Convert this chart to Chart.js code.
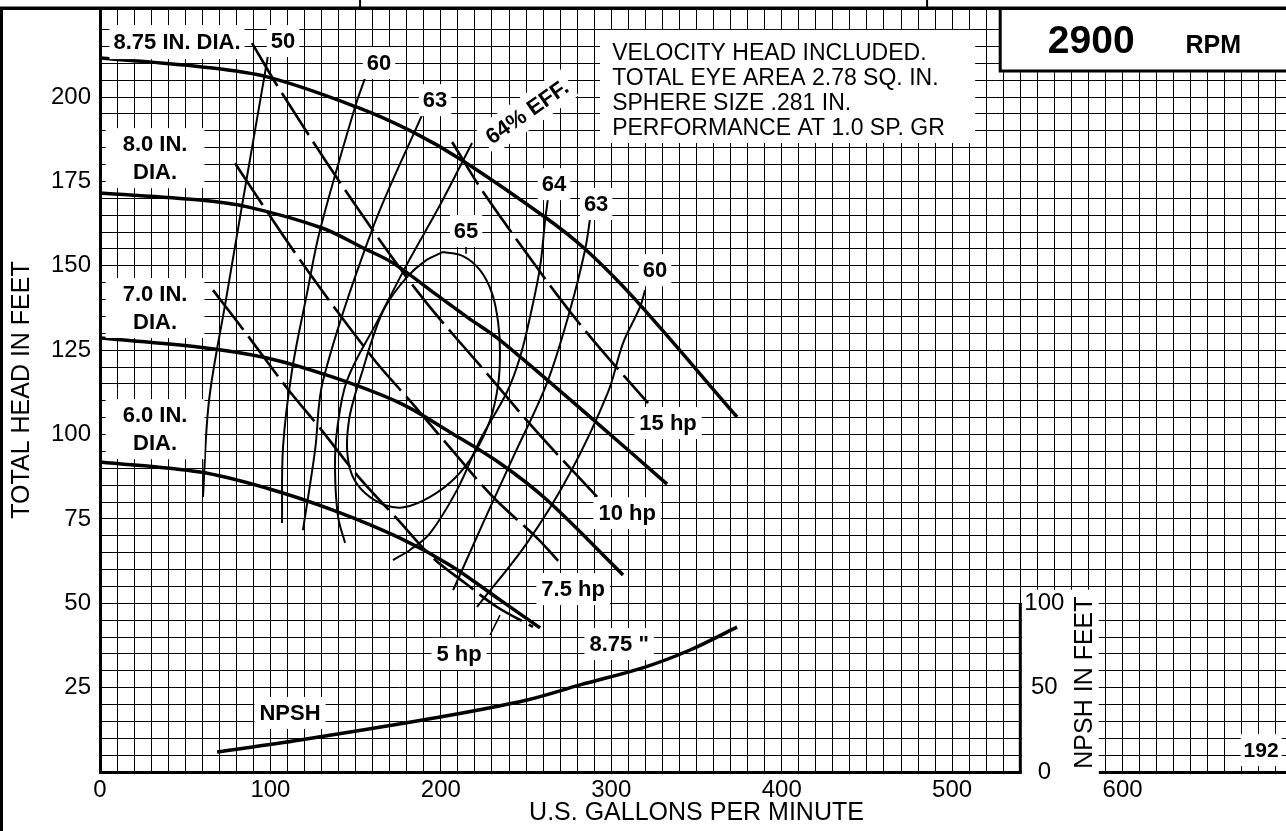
<!DOCTYPE html>
<html><head><meta charset="utf-8">
<script src="https://cdn.jsdelivr.net/npm/chart.js@4.4.1/dist/chart.umd.min.js"></script>
<style>
html,body{margin:0;padding:0;background:#fff;overflow:hidden;width:1286px;height:831px;}
#wrap{position:absolute;left:0;top:0;width:1300px;height:831px;}
</style></head><body>
<div id="wrap"><canvas id="c" width="1300" height="831"></canvas></div>
<script>
// ---------- tick labels ----------
const gpmTickLabels = [0, 100, 200, 300, 400, 500, 600];
const headTickLabels = [25, 50, 75, 100, 125, 150, 175, 200];
const npshTickLabels = [0, 50, 100];

// ---------- head-capacity curves (GPM, ft) ----------
const dia875 = [[0,211.6],[58.7,209],[98.6,205.9],[150.8,197],[183.7,189.6],[212.4,181.3],[261.2,164.4],[284.6,155],[312.8,140.7],[373.8,105.2]];
const dia80  = [[0,171.6],[58.7,169.5],[87.2,167.4],[130.3,161.2],[154.3,155.3],[172,150.8],[197.8,141.3],[215.4,134.8],[234.7,128],[291.7,103.4],[332.7,85.3]];
const dia70  = [[0,128.6],[58.7,125.9],[98,122.7],[136.7,117],[176.1,109.3],[205.4,100.7],[234.7,91.5],[262.3,80.6],[306.9,58.4]];
const dia60  = [[0,91.9],[58.7,88.9],[98,84.1],[136.7,77.6],[176.1,69.3],[205.4,61.3],[234.7,51],[258.2,42.7]];

// ---------- efficiency curves ----------
const eff50  = [[98.6,212.4],[83.9,169.5],[73.9,139.9],[64,110.2],[60.4,81.5]];
const eff60a = [[155.5,205.6],[149.6,197],[129.1,160.6],[121.5,141.9],[112.7,119.1],[107.4,96.3],[106.8,73.8]];
const eff63a = [[189,194.7],[159.6,160.6],[130.9,116.1],[126.2,95.4],[119.1,71.7]];
const eff64a = [[218.3,186.4],[199.5,168],[180.8,151.1],[163.1,133.9],[145,116.1],[139.1,101.3],[137.9,89.5],[139.7,75.6],[143.8,67.9]];
const eff65  = [[201.3,154.1],[213,152.9],[223,148.7],[230,141.9],[233.6,133.3],[234.7,124.4],[233.6,114.7],[228.9,104.3],[220.1,94.8],[208.3,87.1],[193.7,81.5],[179,78.5],[167.3,79.1],[155.5,82.7],[147.9,88],[145,95.4],[146.1,104.3],[149.6,111.7],[153.8,118.5],[159.6,128],[167.3,137.8],[180.2,146.7],[190.7,151.4],[201.3,154.1]];
const eff64b = [[262.9,170.1],[261.2,163.6],[258.2,149.6],[252.3,134.8],[246.5,123],[238.8,112.6],[223,98.4],[209.5,83.6],[193.7,70.8],[181.9,65.8],[171.9,62.8]];
const eff63b = [[287.6,164.1],[284.6,154.7],[275.8,136.9],[262.3,115.3],[242.4,93.3],[224.8,73.8],[207.2,53.9]];
const eff60b = [[319.8,142.8],[316.9,137.8],[306.9,127.1],[298.1,112.6],[275.8,88.6],[250.6,67.9],[221.2,48.9]];

// ---------- horsepower lines ----------
const hp15 = [[206.6,186.7],[224.8,171.9],[267,142.2],[289.3,128],[321.6,109.3]];
const hp10 = [[89.2,216],[105.6,202.1],[145,171.6],[186.6,142.2],[228.9,117],[256.5,100.7],[291.7,81.5]];
const hp75 = [[79.2,180.4],[117.4,151.7],[159.6,123],[183.1,109.3],[206.6,95.4],[230.6,81.5],[256.5,69.3],[270,61.9]];
const hp5  = [[66.3,142.8],[85.1,130.4],[109.7,113.8],[129.1,101.9],[150.8,88],[174.9,74.7],[194.8,63.7],[214.2,56],[233,48.9],[254.1,43]];

// ---------- NPSH (GPM, NPSH ft) ----------
const npsh = [[68.7,11.9],[117.4,19],[199.5,32.6],[250.6,42.7],[281.7,51.6],[319.8,62.2],[346.2,72.3],[373.8,85.9]];

// ---------- annotation text ----------
const noteLines = ['VELOCITY HEAD INCLUDED.','TOTAL EYE AREA 2.78 SQ. IN.','SPHERE SIZE .281 IN.','PERFORMANCE AT 1.0 SP. GR'];

const FAM = '"Liberation Sans", Arial, Helvetica, sans-serif';
const HEAD_MAX = 226.4;

const labels = [
  {t:['8.75 IN. DIA.'], x:45.2, y:216.3, px:4, py:3},
  {t:['8.0 IN.','DIA.'], x:32.3, y:181.9, px:17, py:2},
  {t:['7.0 IN.','DIA.'], x:32.3, y:137.5, px:17, py:2},
  {t:['6.0 IN.','DIA.'], x:32.3, y:101.6, px:17, py:2},
  {t:['50'], x:107.4, y:216.6},
  {t:['60'], x:163.7, y:210.1},
  {t:['63'], x:196.6, y:199.1},
  {t:['64% EFF.'], x:250.6, y:195.6, rot:-35},
  {t:['65'], x:214.8, y:160.3},
  {t:['64'], x:266.4, y:174.2},
  {t:['63'], x:291.1, y:168.3},
  {t:['60'], x:325.7, y:148.7},
  {t:['15 hp'], x:333.3, y:103.4, px:5},
  {t:['10 hp'], x:309.3, y:76.7, px:5},
  {t:['7.5 hp'], x:277.6, y:54.2, px:5},
  {t:['5 hp'], x:210.7, y:35, px:5},
  {t:['8.75 "'], x:304.6, y:37.9, px:5},
  {t:['NPSH'], x:111.5, y:17.5, px:5},
  {t:['192'], x:681.3, y:6.5, px:3, font:'bold 21px '+FAM}
];
const leaders = [[214.8,156.9,214.8,153.6],[228.9,40.6,234.7,46.5]];

function line(ds, w, dash){
  return {data: ds, showLine:true, borderColor:'#000', borderWidth:w, borderDash: dash||[], pointRadius:0, tension:0.35, fill:false};
}

const annot = {
  id:'annot',
  beforeDatasetsDraw(chart){
    const {ctx, scales:{x,y,y2}} = chart;
    ctx.save();
    const ax = x.getPixelForValue(540);
    ctx.fillStyle = '#fff';
    ctx.fillRect(ax+1.5, y2.getPixelForValue(108), 77, y.bottom - y2.getPixelForValue(108) + 5);
    ctx.restore();
  },
  afterDatasetsDraw(chart){
    const {ctx, scales:{x,y,y2}, chartArea:ca} = chart;
    ctx.save();
    ctx.strokeStyle='#000'; ctx.lineWidth=1.6;
    leaders.forEach(s=>{ctx.beginPath();ctx.moveTo(x.getPixelForValue(s[0]),y.getPixelForValue(s[1]));ctx.lineTo(x.getPixelForValue(s[2]),y.getPixelForValue(s[3]));ctx.stroke();});
    labels.forEach(L=>{
      ctx.font = L.font || ('bold 22px '+FAM);
      const lh = 28;
      const w = Math.max(...L.t.map(s=>ctx.measureText(s).width));
      const padX = L.px ?? 4, padY = L.py ?? 2;
      const h = L.t.length*lh;
      ctx.save();
      ctx.translate(x.getPixelForValue(L.x), y.getPixelForValue(L.y));
      if (L.rot) ctx.rotate(L.rot*Math.PI/180);
      ctx.fillStyle='#fff';
      ctx.fillRect(-w/2-padX, -h/2-padY, w+2*padX, h+2*padY);
      ctx.fillStyle='#000'; ctx.textAlign='center'; ctx.textBaseline='middle';
      L.t.forEach((s,i)=>ctx.fillText(s, 0, -h/2+lh*(i+0.5)+1));
      ctx.restore();
    });
    // notes box
    const nl = x.getPixelForValue(293.4), nr = x.getPixelForValue(513.5);
    const nt = y.getPixelForValue(219.9), nb = y.getPixelForValue(186.4);
    ctx.fillStyle='#fff'; ctx.fillRect(nl, nt, nr-nl, nb-nt);
    ctx.fillStyle='#000'; ctx.font='23px '+FAM; ctx.textAlign='left'; ctx.textBaseline='middle';
    const nx = x.getPixelForValue(300.5), ny = y.getPixelForValue(213.3);
    noteLines.forEach((s,i)=>ctx.fillText(s, nx, ny + i*25 + 1));
    // RPM box
    const rl = x.getPixelForValue(528.2), rb = y.getPixelForValue(207.7);
    ctx.fillStyle='#fff'; ctx.fillRect(rl, ca.top, chart.width-rl+10, rb-ca.top);
    ctx.strokeStyle='#000'; ctx.lineWidth=3;
    ctx.beginPath(); ctx.moveTo(rl, ca.top); ctx.lineTo(rl, rb); ctx.lineTo(chart.width+5, rb); ctx.stroke();
    ctx.fillStyle='#000'; ctx.textBaseline='alphabetic'; ctx.textAlign='center';
    const base = y.getPixelForValue(213);
    ctx.font='bold 39px '+FAM; ctx.fillText('2900', x.getPixelForValue(581.6), base);
    ctx.font='bold 25px '+FAM; ctx.fillText('RPM', x.getPixelForValue(653.2), base);
    // NPSH axis
    const ax = x.getPixelForValue(540);
    ctx.lineWidth=3; ctx.beginPath(); ctx.moveTo(ax, y2.getPixelForValue(0)); ctx.lineTo(ax, y2.getPixelForValue(100)); ctx.stroke();
    ctx.font='24px '+FAM; ctx.textAlign='center'; ctx.textBaseline='middle';
    npshTickLabels.forEach(v=>ctx.fillText(String(v), ax+24, y2.getPixelForValue(v)));
    ctx.save();
    ctx.translate(ax+64, y2.getPixelForValue(53));
    ctx.rotate(-Math.PI/2);
    ctx.font='25px '+FAM; ctx.fillText('NPSH IN FEET', 0, 1);
    ctx.restore();
    ctx.restore();
  },
  afterDraw(chart){
    const {ctx, scales:{x}, chartArea:ca} = chart;
    ctx.save();
    ctx.fillStyle='#000';
    ctx.fillRect(0, ca.top-1.5, chart.width, 3.5);
    ctx.fillRect(0, ca.top, 3, chart.height-ca.top);
    [152.6, 485.3].forEach(g=>{const p=x.getPixelForValue(g); ctx.fillRect(p-1, 0, 2, ca.top);});
    ctx.restore();
  }
};

new Chart(document.getElementById('c'), {
  type:'scatter',
  data:{datasets:[
    line(dia875,3.5), line(dia80,3.5), line(dia70,3.5), line(dia60,3.5),
    line(eff50,2), line(eff60a,2), line(eff63a,2), line(eff64a,2), line(eff65,2),
    line(eff64b,2), line(eff63b,2), line(eff60b,2),
    line(hp15,2.6,[50,8]), line(hp10,2.6,[50,8]), line(hp75,2.6,[50,8]), line(hp5,2.6,[50,8]),
    Object.assign(line(npsh,3.5), {yAxisID:'y2'})
  ]},
  options:{
    responsive:false, devicePixelRatio:1, animation:false,
    layout:{padding:{left:0, top:8, right:7, bottom:0}},
    plugins:{legend:{display:false}, tooltip:{enabled:false}},
    scales:{
      x:{type:'linear', min:0, max:700,
        afterFit(s){ s.height = 59; s.paddingLeft = 0; s.paddingRight = 0; },
        grid:{color:'#000', lineWidth:1, drawTicks:false},
        border:{color:'#000', width:3},
        ticks:{stepSize:10, autoSkip:false, maxRotation:0, padding:4, color:'#000',
          font:{size:24, family:FAM},
          callback:v=>gpmTickLabels.includes(v)?String(v):''},
        title:{display:true, text:'U.S. GALLONS PER MINUTE', color:'#000', font:{size:25, family:FAM}, padding:{top:0,bottom:3}}
      },
      y:{type:'linear', min:0, max:HEAD_MAX,
        afterFit(s){ s.width = 100; s.paddingTop = 0; s.paddingBottom = 0; },
        grid:{color:'#000', lineWidth:1, drawTicks:false},
        border:{color:'#000', width:3},
        ticks:{stepSize:5, autoSkip:false, padding:9, color:'#000',
          font:{size:24, family:FAM},
          callback:v=>headTickLabels.includes(v)?String(v):''},
        title:{display:true, text:'TOTAL HEAD IN FEET', color:'#000', font:{size:25, family:FAM}, padding:{top:7,bottom:0}}
      },
      y2:{type:'linear', display:false, min:0, max:HEAD_MAX*2, position:'right'}
    }
  },
  plugins:[annot]
});
</script>
</body></html>
